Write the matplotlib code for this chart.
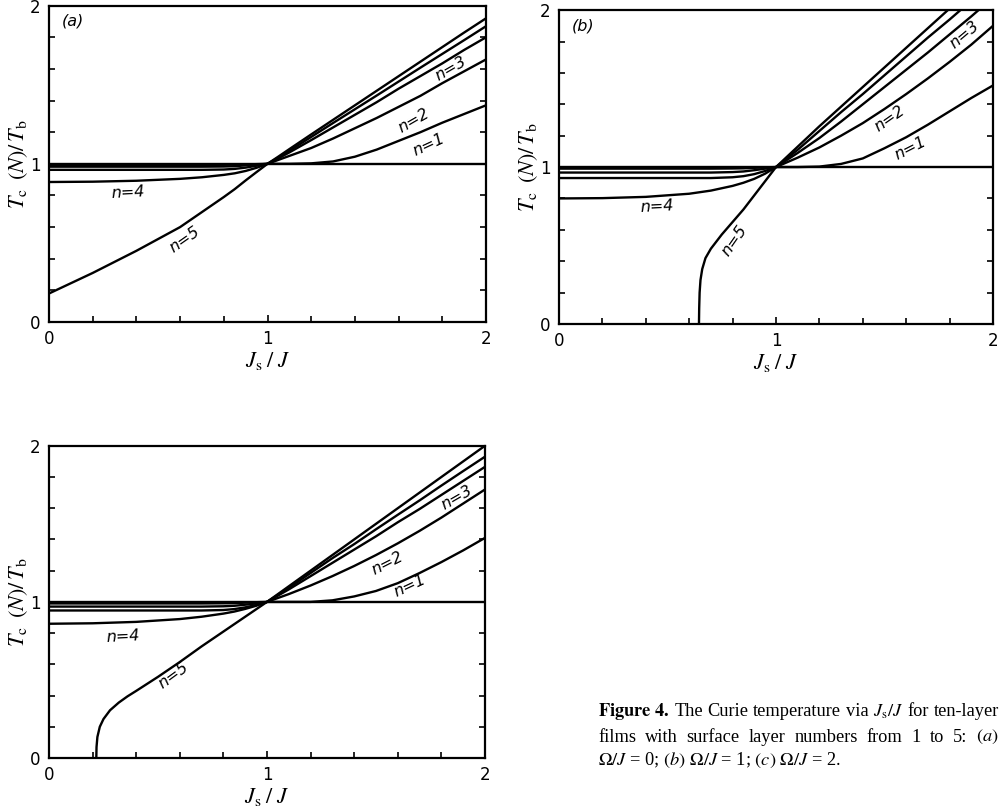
import matplotlib
matplotlib.use("Agg")
import matplotlib.pyplot as plt
from matplotlib.ticker import MultipleLocator, FormatStrFormatter

plt.rcParams["font.family"] = ["DejaVu Sans"]
plt.rcParams["mathtext.fontset"] = "stix"

# common abscissa for the n = 1..4 curves (Js/J)
X = [0.0, 0.2, 0.4, 0.6, 0.7, 0.8, 0.85, 0.9, 0.95, 1.0, 1.05,
     1.1, 1.2, 1.3, 1.4, 1.5, 1.6, 1.7, 1.8, 1.9, 2.0]

BULK = 1.0   # Tc(N)/Tb reference level

# ---- (a)  Omega/J = 0
A_N1 = [0.993, 0.993, 0.993, 0.993, 0.993, 0.994, 0.995, 0.996, 0.998, 1.0, 1.0,
        1.0, 1.003, 1.015, 1.045, 1.09, 1.145, 1.2, 1.26, 1.315, 1.37]
A_N2 = [0.982, 0.982, 0.982, 0.982, 0.982, 0.983, 0.985, 0.99, 0.995, 1.0, 1.025,
        1.05, 1.1, 1.16, 1.225, 1.29, 1.36, 1.43, 1.51, 1.585, 1.66]
A_N3 = [0.962, 0.962, 0.962, 0.962, 0.962, 0.964, 0.968, 0.976, 0.988, 1.0, 1.035,
        1.072, 1.15, 1.23, 1.31, 1.39, 1.475, 1.555, 1.635, 1.72, 1.80]
A_N4 = [0.885, 0.887, 0.893, 0.905, 0.915, 0.93, 0.94, 0.955, 0.975, 1.0, 1.04,
        1.082, 1.17, 1.258, 1.345, 1.432, 1.52, 1.608, 1.695, 1.782, 1.87]
A_N5_X = X
A_N5 = [0.18, 0.31, 0.45, 0.60, 0.695, 0.79, 0.84, 0.895, 0.948, 1.0, 1.046,
        1.093, 1.186, 1.278, 1.37, 1.462, 1.554, 1.646, 1.738, 1.83, 1.92]

# ---- (b)  Omega/J = 1
B_N1 = [0.99, 0.99, 0.99, 0.99, 0.99, 0.991, 0.992, 0.995, 0.998, 1.0, 1.0,
        1.0, 1.003, 1.02, 1.055, 1.12, 1.19, 1.27, 1.355, 1.44, 1.52]
B_N2 = [0.965, 0.965, 0.965, 0.965, 0.965, 0.968, 0.972, 0.98, 0.99, 1.0, 1.03,
        1.06, 1.125, 1.2, 1.28, 1.37, 1.465, 1.565, 1.67, 1.78, 1.90]
B_N3 = [0.93, 0.93, 0.93, 0.93, 0.93, 0.935, 0.942, 0.955, 0.975, 1.0, 1.045,
        1.09, 1.185, 1.29, 1.4, 1.51, 1.62, 1.73, 1.845, 1.96, 2.08]
B_N4 = [0.80, 0.802, 0.81, 0.83, 0.85, 0.88, 0.90, 0.925, 0.958, 1.0, 1.055,
        1.11, 1.23, 1.35, 1.465, 1.585, 1.705, 1.825, 1.94, 2.06, 2.18]
B_N5_X = [0.645, 0.646, 0.648, 0.652, 0.66, 0.675, 0.7, 0.75, 0.8, 0.85, 0.9,
          0.95, 1.0, 1.1, 1.2, 1.3, 1.4, 1.5, 1.6, 1.7, 1.8, 1.9, 2.0]
B_N5 = [0.0, 0.1, 0.2, 0.28, 0.35, 0.42, 0.48, 0.57, 0.65, 0.73, 0.82,
        0.91, 1.0, 1.13, 1.26, 1.385, 1.51, 1.635, 1.76, 1.885, 2.01, 2.14, 2.27]

# ---- (c)  Omega/J = 2
C_N1 = [0.99, 0.99, 0.99, 0.99, 0.99, 0.991, 0.992, 0.995, 0.998, 1.0, 1.0,
        1.0, 1.0, 1.01, 1.035, 1.07, 1.12, 1.185, 1.255, 1.33, 1.41]
C_N2 = [0.97, 0.97, 0.97, 0.97, 0.97, 0.972, 0.975, 0.982, 0.99, 1.0, 1.025,
        1.05, 1.105, 1.165, 1.23, 1.30, 1.375, 1.455, 1.54, 1.63, 1.72]
C_N3 = [0.945, 0.945, 0.945, 0.945, 0.945, 0.948, 0.954, 0.965, 0.98, 1.0, 1.04,
        1.08, 1.165, 1.25, 1.335, 1.42, 1.51, 1.595, 1.685, 1.775, 1.865]
C_N4 = [0.86, 0.863, 0.872, 0.89, 0.905, 0.925, 0.938, 0.955, 0.975, 1.0, 1.045,
        1.09, 1.185, 1.28, 1.37, 1.465, 1.558, 1.65, 1.745, 1.838, 1.93]
C_N5_X = [0.217, 0.218, 0.222, 0.233, 0.25, 0.28, 0.32, 0.36, 0.4, 0.5, 0.6,
          0.7, 0.8, 0.9, 1.0, 1.1, 1.2, 1.3, 1.4, 1.5, 1.6, 1.7, 1.8, 1.9, 2.0]
C_N5 = [0.0, 0.07, 0.135, 0.2, 0.25, 0.306, 0.355, 0.395, 0.43, 0.52, 0.615,
        0.715, 0.81, 0.905, 1.0, 1.1, 1.2, 1.3, 1.4, 1.5, 1.6, 1.7, 1.8, 1.9, 2.0]

LW = 1.7


def draw_panel(ax, curves, n5_x, n5_y, labels, tag=None):
    ax.plot([0, 2], [BULK, BULK], color="black", lw=LW)
    for ys in curves:
        ax.plot(X, ys, color="black", lw=LW)
    ax.plot(n5_x, n5_y, color="black", lw=LW)
    for (txt, x, y, rot) in labels:
        ax.text(x, y, txt, fontsize=11.5, style="italic", rotation=rot,
                ha="center", va="center", rotation_mode="anchor")
    if tag:
        ax.text(0.11, 1.9, tag, fontsize=11.5, style="italic", ha="center", va="center")

    ax.set_xlim(0, 2)
    ax.set_ylim(0, 2)
    for axis in (ax.xaxis, ax.yaxis):
        axis.set_major_locator(MultipleLocator(1))
        axis.set_minor_locator(MultipleLocator(0.2))
        axis.set_major_formatter(FormatStrFormatter("%d"))
    ax.tick_params(which="both", direction="in", right=True, width=1.2,
                   labelsize=12)
    ax.tick_params(which="major", length=5, pad=6)
    ax.tick_params(which="minor", length=4)
    for sp in ax.spines.values():
        sp.set_linewidth(1.6)
    ax.set_xlabel(r"$J_{\mathrm{s}}\;/\;J$", fontsize=16, labelpad=1)
    ax.set_ylabel(r"$T_{\mathrm{c}}\;\;(N)/\,T_{\mathrm{b}}$", fontsize=16, labelpad=0)


fig = plt.figure(figsize=(10, 8.09), dpi=100)

ax_a = fig.add_axes([0.049, 0.602, 0.437, 0.391])
draw_panel(ax_a, [A_N1, A_N2, A_N3, A_N4], A_N5_X, A_N5,
           [("n=1", 1.74, 1.12, 25), ("n=2", 1.67, 1.27, 30),
            ("n=3", 1.84, 1.6, 30), ("n=4", 0.36, 0.82, 3),
            ("n=5", 0.62, 0.52, 35)], tag="(a)")

ax_b = fig.add_axes([0.559, 0.5995, 0.434, 0.388])
draw_panel(ax_b, [B_N1, B_N2, B_N3, B_N4], B_N5_X, B_N5,
           [("n=1", 1.62, 1.12, 27), ("n=2", 1.525, 1.31, 35),
            ("n=3", 1.87, 1.84, 40), ("n=4", 0.45, 0.745, 3),
            ("n=5", 0.81, 0.53, 55)], tag="(b)")

ax_c = fig.add_axes([0.049, 0.063, 0.436, 0.386])
draw_panel(ax_c, [C_N1, C_N2, C_N3, C_N4], C_N5_X, C_N5,
           [("n=1", 1.656, 1.10, 25), ("n=2", 1.55, 1.25, 27),
            ("n=3", 1.87, 1.67, 30), ("n=4", 0.34, 0.775, 3),
            ("n=5", 0.57, 0.53, 36)])

# caption, first two lines justified
CAPTION = [
    [r"$\mathbf{Figure\ 4.}$", "The", "Curie", "temperature",
     "via", r"$J_{\mathrm{s}}/J$", "for", "ten-layer"],
    ["films", "with", "surface", "layer", "numbers",
     "from", "1", "to", "5:", r"$(a)$"],
]
LAST_LINE = r"$\Omega/J$ = 0; $(b)$ $\Omega/J$ = 1; $(c)$ $\Omega/J$ = 2."

cap_font = dict(family="Liberation Serif", fontsize=13.2)
x0, x1 = 0.598, 0.999
renderer = fig.canvas.get_renderer()
for line, ypix in zip(CAPTION, [712, 737]):
    y = 1 - ypix / 809
    texts = [fig.text(0, y, w, va="center", ha="left", **cap_font) for w in line]
    widths = [t.get_window_extent(renderer).width / 1000 for t in texts]
    gap = (x1 - x0 - sum(widths)) / (len(texts) - 1)
    xpos = x0
    for t, w in zip(texts, widths):
        t.set_x(xpos)
        xpos += w + gap
fig.text(x0, 1 - 760 / 809, LAST_LINE, va="center", ha="left", **cap_font)

fig.savefig("out.png", dpi=100)
